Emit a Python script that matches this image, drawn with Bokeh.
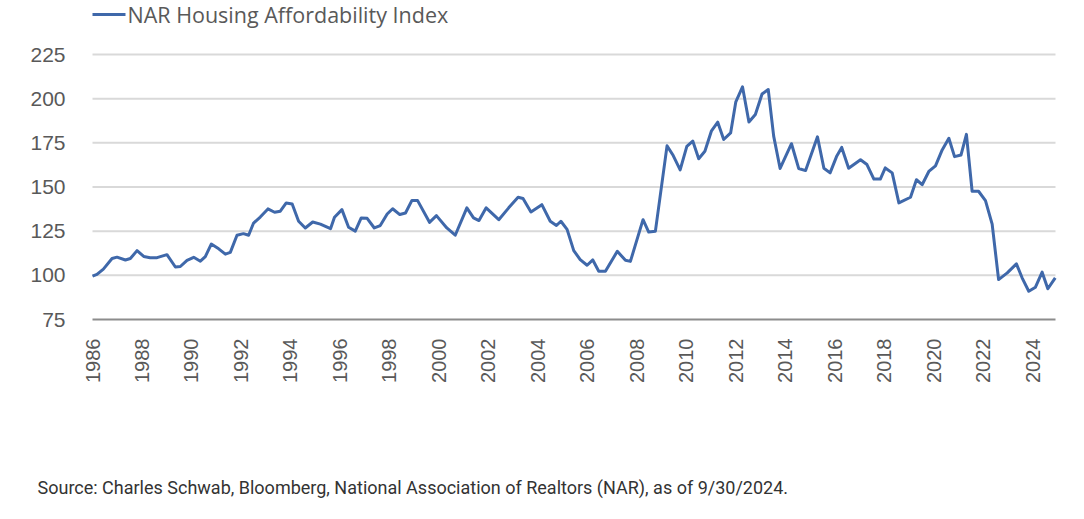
from bokeh.plotting import figure
from bokeh.models import Range1d, FixedTicker, Label
from bokeh.embed import file_html
from bokeh.resources import INLINE

# Data (time position in years, index value)
years = [1986.0, 1986.18, 1986.44, 1986.79, 1986.99, 1987.33, 1987.53, 1987.80, 1988.07, 1988.33,
         1988.61, 1989.01, 1989.35, 1989.55, 1989.82, 1990.09, 1990.36, 1990.56, 1990.80, 1991.10,
         1991.37, 1991.57, 1991.84, 1992.10, 1992.31, 1992.51, 1992.78, 1993.09, 1993.36, 1993.59,
         1993.83, 1994.07, 1994.33, 1994.60, 1994.90, 1995.21, 1995.62, 1995.78, 1996.08, 1996.35,
         1996.62, 1996.86, 1997.10, 1997.39, 1997.63, 1997.91, 1998.13, 1998.42, 1998.65, 1998.91,
         1999.14, 1999.62, 1999.90, 2000.32, 2000.66, 2001.13, 2001.40, 2001.62, 2001.91, 2002.42,
         2002.82, 2003.20, 2003.40, 2003.72, 2004.16, 2004.50, 2004.75, 2004.93, 2005.18, 2005.45,
         2005.71, 2005.99, 2006.22, 2006.46, 2006.73, 2007.21, 2007.54, 2007.74, 2008.25, 2008.48,
         2008.75, 2009.22, 2009.47, 2009.75, 2010.02, 2010.26, 2010.50, 2010.75, 2011.01, 2011.27,
         2011.51, 2011.79, 2012.00, 2012.27, 2012.53, 2012.79, 2013.06, 2013.31, 2013.53, 2013.79,
         2014.25, 2014.54, 2014.82, 2015.30, 2015.56, 2015.81, 2016.07, 2016.28, 2016.56, 2017.04,
         2017.30, 2017.58, 2017.84, 2018.04, 2018.32, 2018.59, 2019.06, 2019.30, 2019.53, 2019.80,
         2020.07, 2020.34, 2020.61, 2020.84, 2021.10, 2021.32, 2021.55, 2021.81, 2022.09, 2022.36,
         2022.62, 2022.97, 2023.34, 2023.57, 2023.84, 2024.11, 2024.38, 2024.61, 2024.91]
index = [99.5, 100.5, 103.5, 109.5, 110.3, 108.7, 109.5, 114.0, 110.7, 110.0,
         110.0, 111.7, 104.7, 105.0, 108.5, 110.2, 108.0, 110.6, 117.7, 115.0,
         112.0, 113.0, 122.7, 123.6, 122.7, 129.6, 133.0, 137.6, 135.7, 136.3,
         141.0, 140.4, 130.6, 126.8, 130.2, 129.0, 126.4, 132.9, 137.2, 127.2,
         125.0, 132.5, 132.3, 126.8, 128.2, 134.7, 137.7, 134.4, 135.3, 142.4,
         142.3, 130.0, 133.8, 126.8, 122.7, 138.2, 132.5, 131.0, 138.2, 131.5,
         138.2, 144.2, 143.5, 135.9, 140.0, 130.6, 128.2, 130.6, 126.0, 114.0,
         108.9, 105.7, 108.7, 102.3, 102.3, 113.6, 108.5, 107.9, 131.5, 124.5,
         125.0, 173.3, 167.8, 159.7, 173.0, 176.0, 166.0, 170.2, 181.6, 186.7,
         176.9, 180.6, 198.2, 206.7, 186.8, 191.0, 202.6, 205.2, 178.8, 160.5,
         174.5, 160.5, 159.3, 178.4, 160.6, 158.0, 167.2, 172.4, 160.6, 165.4,
         162.7, 154.5, 154.5, 160.8, 158.0, 141.0, 144.2, 154.1, 151.3, 158.8,
         162.0, 171.0, 177.6, 167.2, 168.1, 179.8, 147.6, 147.6, 142.3, 129.0,
         97.6, 101.4, 106.5, 98.6, 91.0, 93.3, 101.8, 92.4, 98.6]

x_tick_years = list(range(1986, 2025, 2))
y_ticks = [75, 100, 125, 150, 175, 200, 225]

series_name = "NAR Housing Affordability Index"
source_note = "Source: Charles Schwab, Bloomberg, National Association of Realtors (NAR), as of 9/30/2024."

LINE = "#3F68AA"
TEXT = "#595959"

# ---- layout (pixels in the figure) ----
W, H = 1068, 503
PLOT_L, PLOT_R, PLOT_T, PLOT_B = 92, 1055, 54, 319
X_START, X_END = 1986.0, 2024.92          # years at plot-area left / right edges
Y_MIN, Y_MAX = y_ticks[0], y_ticks[-1]
PPX = (PLOT_R - PLOT_L) / (X_END - X_START)
PPY = (PLOT_B - PLOT_T) / (Y_MAX - Y_MIN)

def px_x(px):
    return X_START + (px - PLOT_L) / PPX

def px_y(py):
    return Y_MAX - (py - PLOT_T) / PPY

p = figure(width=W, height=H, output_backend="svg", toolbar_location=None,
           x_range=Range1d(px_x(0), px_x(W)), y_range=Range1d(px_y(H), px_y(0)),
           min_border=0)
p.outline_line_color = None
p.background_fill_color = "white"
p.border_fill_color = "white"
p.xgrid.visible = False
p.ygrid.visible = False

# horizontal gridlines over the plot area
grid_levels = [t for t in y_ticks if t != Y_MIN]
p.segment(x0=[X_START] * len(grid_levels), x1=[X_END] * len(grid_levels),
          y0=grid_levels, y1=grid_levels, line_color="#d9d9d9", line_width=2)
# baseline
p.segment(x0=[X_START], x1=[X_END], y0=[Y_MIN], y1=[Y_MIN], line_color="#8c8c8c", line_width=2)

p.line(years, index, line_color=LINE, line_width=3, line_join="round")

# axes fixed inside the canvas
p.xaxis.fixed_location = Y_MIN
p.xaxis.ticker = FixedTicker(ticks=x_tick_years)
p.xaxis.major_label_orientation = 1.5707963
p.xaxis.major_label_text_font = "Liberation Sans"
p.xaxis.major_label_text_font_size = "20px"
p.xaxis.major_label_text_color = TEXT
p.xaxis.major_tick_line_color = None
p.xaxis.minor_tick_line_color = None
p.xaxis.axis_line_color = None
p.xaxis.major_label_standoff = 13

p.yaxis.fixed_location = X_START
p.yaxis.ticker = FixedTicker(ticks=y_ticks)
p.yaxis.major_label_text_font = "Liberation Sans"
p.yaxis.major_label_text_font_size = "21px"
p.yaxis.major_label_text_color = TEXT
p.yaxis.major_tick_line_color = None
p.yaxis.minor_tick_line_color = None
p.yaxis.axis_line_color = None
p.yaxis.major_label_standoff = 21

# legend: line sample + label
p.segment(x0=[px_x(92)], x1=[px_x(125)], y0=[px_y(14)], y1=[px_y(14)],
          line_color=LINE, line_width=3)
p.add_layout(Label(x=px_x(127), y=px_y(14), text=series_name,
                   text_font="Open Sans", text_font_size="21.5px",
                   text_color=TEXT, text_baseline="middle"))

# source note
p.add_layout(Label(x=px_x(37), y=px_y(487), text=source_note,
                   text_font="Roboto", text_font_size="18px",
                   text_color="#333333", text_baseline="middle"))

open("out.html", "w").write(file_html(p, INLINE))
